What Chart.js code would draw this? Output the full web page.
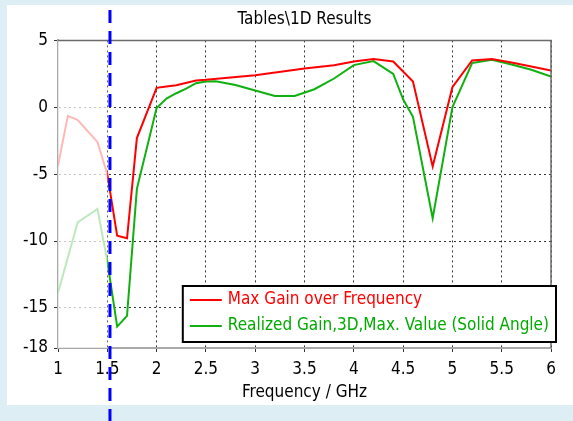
<!DOCTYPE html>
<html>
<head>
<meta charset="utf-8">
<script src="https://cdn.jsdelivr.net/npm/chart.js@4/dist/chart.umd.min.js"></script>
<style>
  html, body { margin: 0; padding: 0; }
  body { width: 573px; height: 421px; background: #ddeef4; position: relative; overflow: hidden; }
  #panel { position: absolute; left: 7px; top: 5px; width: 566px; height: 400px; background: #ffffff; }
  #gainChart { position: absolute; left: 0; top: 0; }
</style>
</head>
<body>
<div id="panel"></div>
<canvas id="gainChart" width="573" height="421"></canvas>
<script>
const FONT = "'DejaVu Sans Condensed', 'DejaVu Sans', sans-serif";

// Max Gain over Frequency
const freqMax = [1.0, 1.1, 1.2, 1.4, 1.5, 1.6, 1.7, 1.8, 2.0, 2.1, 2.2, 2.4, 2.5, 3.0, 3.5, 3.8, 4.0, 4.2, 4.4, 4.6, 4.8, 5.0, 5.2, 5.4, 5.6, 5.8, 6.0];
const gainMax = [-4.35, -0.64, -0.96, -2.59, -5.0, -9.6, -9.8, -2.3, 1.45, 1.55, 1.65, 2.0, 2.05, 2.4, 2.9, 3.15, 3.42, 3.6, 3.42, 1.92, -4.42, 1.5, 3.5, 3.6, 3.35, 3.05, 2.74];

// Realized Gain,3D,Max. Value (Solid Angle)
const freqRealized = [1.0, 1.2, 1.4, 1.5, 1.6, 1.7, 1.8, 2.0, 2.1, 2.2, 2.3, 2.4, 2.5, 2.6, 2.8, 3.0, 3.2, 3.4, 3.6, 3.8, 4.0, 4.2, 4.4, 4.5, 4.6, 4.8, 5.0, 5.2, 5.4, 5.6, 5.8, 6.0];
const gainRealized = [-13.87, -8.6, -7.6, -11.5, -16.4, -15.6, -6.1, -0.05, 0.65, 1.05, 1.4, 1.8, 1.92, 1.95, 1.67, 1.25, 0.84, 0.84, 1.35, 2.15, 3.15, 3.45, 2.5, 0.6, -0.71, -8.3, 0.0, 3.3, 3.55, 3.2, 2.8, 2.3];

const yTicks = [5, 0, -5, -10, -15, -18];
const seriesNames = ["Max Gain over Frequency", "Realized Gain,3D,Max. Value (Solid Angle)"];
const seriesColors = ["#ff0000", "#10b010"];
const fadeRange = [1.0, 1.5];   // greyed-out part of the sweep
const markerFreq = 1.527;       // blue dashed marker

function toPoints(xs, ys) {
  return xs.map(function (x, i) { return { x: x, y: ys[i] }; });
}

// white veil over the low band, plot frame, marker, boxed legend
const decorPlugin = {
  id: "decor",
  afterDatasetsDraw(chart) {
    const ctx = chart.ctx;
    const area = chart.chartArea;
    const xs = chart.scales.x;
    const x0 = xs.getPixelForValue(fadeRange[0]);
    const x1 = xs.getPixelForValue(fadeRange[1]);
    ctx.save();
    ctx.fillStyle = "rgba(255,255,255,0.72)";
    ctx.fillRect(x0, area.top, x1 - x0, area.bottom - area.top);
    // top + right frame
    ctx.strokeStyle = "#6a6a6a";
    ctx.lineWidth = 1.5;
    ctx.beginPath();
    ctx.moveTo(area.left, area.top);
    ctx.lineTo(area.right, area.top);
    ctx.lineTo(area.right, area.bottom);
    ctx.stroke();
    ctx.restore();
  },
  afterDraw(chart) {
    const ctx = chart.ctx;
    const area = chart.chartArea;
    const xs = chart.scales.x;

    // legend box
    ctx.save();
    ctx.font = "17px " + FONT;
    let textW = 0;
    seriesNames.forEach(function (n) { textW = Math.max(textW, ctx.measureText(n).width); });
    const boxW = 45 + textW + 7;
    const boxH = 56;
    const bx = area.right + 5 - boxW;
    const by = area.bottom - 6 - boxH;
    ctx.fillStyle = "#ffffff";
    ctx.fillRect(bx, by, boxW, boxH);
    ctx.strokeStyle = "#000000";
    ctx.lineWidth = 2;
    ctx.strokeRect(bx, by, boxW, boxH);
    ctx.textBaseline = "middle";
    ctx.textAlign = "left";
    seriesNames.forEach(function (n, i) {
      const ly = by + 14 + i * 26;
      ctx.strokeStyle = seriesColors[i];
      ctx.lineWidth = 2;
      ctx.beginPath();
      ctx.moveTo(bx + 7, ly);
      ctx.lineTo(bx + 39, ly);
      ctx.stroke();
      ctx.fillStyle = i === 0 ? "#ff0000" : "#00aa00";
      ctx.fillText(n, bx + 45, ly);
    });
    ctx.restore();

    // marker line, runs past the plot to the bottom of the window
    const mx = xs.getPixelForValue(markerFreq);
    ctx.save();
    ctx.strokeStyle = "#0000ff";
    ctx.lineWidth = 3;
    ctx.setLineDash([13, 8]);
    ctx.beginPath();
    ctx.moveTo(mx, 10);
    ctx.lineTo(mx, chart.height);
    ctx.stroke();
    ctx.restore();
  }
};

const canvas = document.getElementById("gainChart");
const gainChart = new Chart(canvas, {
  type: "line",
  data: {
    datasets: [
      {
        label: seriesNames[0],
        data: toPoints(freqMax, gainMax),
        borderColor: seriesColors[0],
        borderWidth: 2,
        pointRadius: 0,
        tension: 0
      },
      {
        label: seriesNames[1],
        data: toPoints(freqRealized, gainRealized),
        borderColor: seriesColors[1],
        borderWidth: 2,
        pointRadius: 0,
        tension: 0
      }
    ]
  },
  options: {
    responsive: false,
    animation: false,
    devicePixelRatio: 1,
    layout: { padding: { left: 0, right: 22, top: 0, bottom: 0 } },
    plugins: {
      legend: { display: false },
      tooltip: { enabled: false },
      title: {
        display: true,
        fullSize: false,
        text: "Tables\\1D Results",
        color: "#000000",
        font: { family: FONT, size: 17, weight: "normal" },
        padding: { top: 9, bottom: 11 }
      }
    },
    scales: {
      x: {
        type: "linear",
        min: 1,
        max: 6,
        afterFit: function (scale) { scale.height = 73; },
        ticks: {
          stepSize: 0.5,
          color: "#000000",
          padding: 7,
          font: { family: FONT, size: 17 },
          callback: function (v) { return String(v); }
        },
        grid: { color: "#333333", lineWidth: 1, tickLength: 4 },
        border: { color: "#a8a8a8", width: 2, dash: [2, 3] },
        title: {
          display: true,
          text: "Frequency / GHz",
          color: "#000000",
          font: { family: FONT, size: 17 },
          padding: { top: 0, bottom: 18 }
        }
      },
      y: {
        type: "linear",
        min: -18,
        max: 5,
        afterFit: function (scale) { scale.width = 58; },
        afterBuildTicks: function (scale) {
          scale.ticks = yTicks.map(function (v) { return { value: v }; });
        },
        ticks: {
          color: "#000000",
          padding: 6,
          font: { family: FONT, size: 17 }
        },
        grid: { color: "#333333", lineWidth: 1, tickLength: 4 },
        border: { color: "#a8a8a8", width: 2, dash: [2, 3] }
      }
    }
  },
  plugins: [decorPlugin]
});
</script>
</body>
</html>
